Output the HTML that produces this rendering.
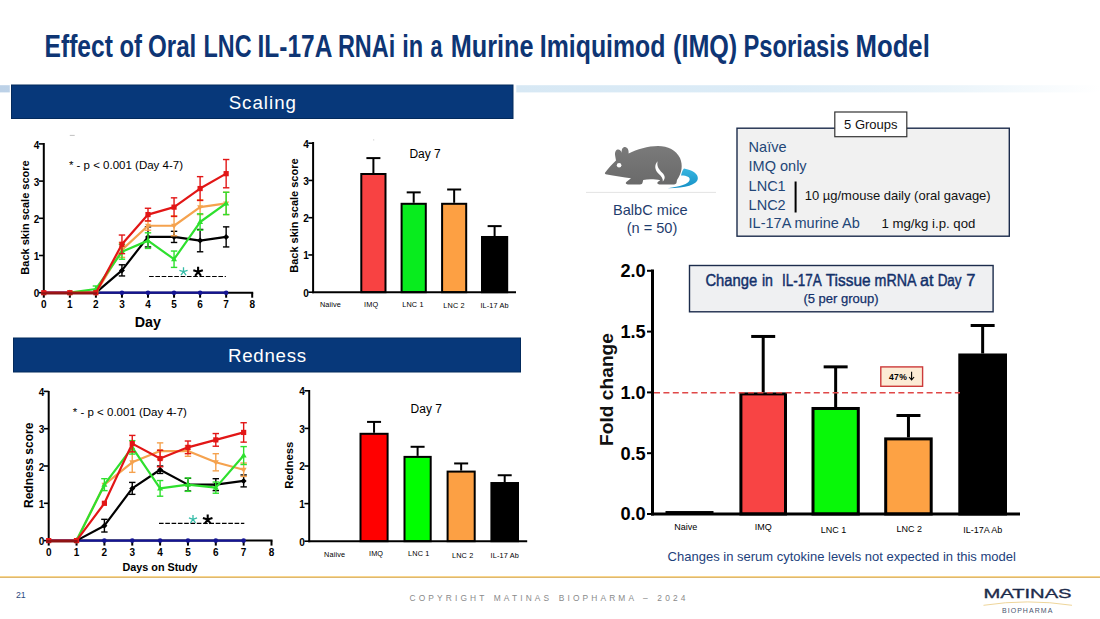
<!DOCTYPE html>
<html><head><meta charset="utf-8"><title>Effect of Oral LNC IL-17A RNAi</title>
<style>
html,body{margin:0;padding:0;background:#fff;}
body{width:1100px;height:619px;overflow:hidden;font-family:"Liberation Sans", sans-serif;}
svg{display:block;font-family:"Liberation Sans", sans-serif;}
</style></head>
<body>
<svg width="1100" height="619" viewBox="0 0 1100 619">
<rect width="1100" height="619" fill="#fff"/>
<defs><linearGradient id="hl" x1="0" x2="1" y1="0" y2="0"><stop offset="0" stop-color="#bcd1e7"/><stop offset="0.47" stop-color="#d7e8f4"/><stop offset="0.7" stop-color="#dcecf7"/><stop offset="0.86" stop-color="#eaf4fa"/><stop offset="1" stop-color="#ffffff"/></linearGradient></defs>
<rect x="0.00" y="85.20" width="1100.00" height="7.20" fill="url(#hl)" stroke="none" stroke-width="0" />
<text x="44.55" y="56.7" font-size="30.5" font-weight="bold" fill="#0e3574" textLength="68.33" lengthAdjust="spacingAndGlyphs">Effect</text>
<text x="119.46" y="56.7" font-size="30.5" font-weight="bold" fill="#0e3574" textLength="22.49" lengthAdjust="spacingAndGlyphs">of</text>
<text x="148.01" y="56.7" font-size="30.5" font-weight="bold" fill="#0e3574" textLength="48.32" lengthAdjust="spacingAndGlyphs">Oral</text>
<text x="203.53" y="56.7" font-size="30.5" font-weight="bold" fill="#0e3574" textLength="48.01" lengthAdjust="spacingAndGlyphs">LNC</text>
<text x="257.56" y="56.7" font-size="30.5" font-weight="bold" fill="#0e3574" textLength="74.80" lengthAdjust="spacingAndGlyphs">IL-17A</text>
<text x="337.92" y="56.7" font-size="30.5" font-weight="bold" fill="#0e3574" textLength="57.33" lengthAdjust="spacingAndGlyphs">RNAi</text>
<text x="402.14" y="56.7" font-size="30.5" font-weight="bold" fill="#0e3574" textLength="20.93" lengthAdjust="spacingAndGlyphs">in</text>
<text x="430.57" y="56.7" font-size="30.5" font-weight="bold" fill="#0e3574" textLength="11.90" lengthAdjust="spacingAndGlyphs">a</text>
<text x="450.80" y="56.7" font-size="30.5" font-weight="bold" fill="#0e3574" textLength="82.79" lengthAdjust="spacingAndGlyphs">Murine</text>
<text x="539.83" y="56.7" font-size="30.5" font-weight="bold" fill="#0e3574" textLength="125.63" lengthAdjust="spacingAndGlyphs">Imiquimod</text>
<text x="673.06" y="56.7" font-size="30.5" font-weight="bold" fill="#0e3574" textLength="64.19" lengthAdjust="spacingAndGlyphs">(IMQ)</text>
<text x="743.50" y="56.7" font-size="30.5" font-weight="bold" fill="#0e3574" textLength="105.66" lengthAdjust="spacingAndGlyphs">Psoriasis</text>
<text x="855.47" y="56.7" font-size="30.5" font-weight="bold" fill="#0e3574" textLength="74.35" lengthAdjust="spacingAndGlyphs">Model</text>
<rect x="9.80" y="84.00" width="506.50" height="35.00" fill="#ffffff" stroke="none" stroke-width="0" />
<rect x="11.50" y="85.00" width="501.50" height="33.50" fill="#07387a" stroke="#032a5c" stroke-width="1" />
<text x="262.80" y="108.90" font-size="18.7" fill="#fff" font-weight="normal" text-anchor="middle" letter-spacing="1.0">Scaling</text>
<rect x="13.50" y="338.00" width="507.00" height="34.00" fill="#07387a" stroke="#032a5c" stroke-width="1" />
<text x="267.40" y="361.80" font-size="18.7" fill="#fff" font-weight="normal" text-anchor="middle" letter-spacing="0.75">Redness</text>
<line x1="43.80" y1="143.00" x2="43.80" y2="293.70" stroke="#000" stroke-width="2" />
<line x1="39.00" y1="292.70" x2="43.80" y2="292.70" stroke="#000" stroke-width="1.6" />
<text x="39.40" y="297.30" font-size="10" fill="#000" font-weight="bold" text-anchor="end" >0</text>
<line x1="39.00" y1="255.50" x2="43.80" y2="255.50" stroke="#000" stroke-width="1.6" />
<text x="39.40" y="260.10" font-size="10" fill="#000" font-weight="bold" text-anchor="end" >1</text>
<line x1="39.00" y1="218.30" x2="43.80" y2="218.30" stroke="#000" stroke-width="1.6" />
<text x="39.40" y="222.90" font-size="10" fill="#000" font-weight="bold" text-anchor="end" >2</text>
<line x1="39.00" y1="181.10" x2="43.80" y2="181.10" stroke="#000" stroke-width="1.6" />
<text x="39.40" y="185.70" font-size="10" fill="#000" font-weight="bold" text-anchor="end" >3</text>
<line x1="39.00" y1="143.90" x2="43.80" y2="143.90" stroke="#000" stroke-width="1.6" />
<text x="39.40" y="148.50" font-size="10" fill="#000" font-weight="bold" text-anchor="end" >4</text>
<line x1="42.80" y1="292.70" x2="253.20" y2="292.70" stroke="#000" stroke-width="2" />
<line x1="43.80" y1="292.70" x2="43.80" y2="297.70" stroke="#000" stroke-width="2" />
<text x="43.80" y="308.30" font-size="10" fill="#000" font-weight="bold" text-anchor="middle" >0</text>
<line x1="69.85" y1="292.70" x2="69.85" y2="297.70" stroke="#000" stroke-width="2" />
<text x="69.85" y="308.30" font-size="10" fill="#000" font-weight="bold" text-anchor="middle" >1</text>
<line x1="95.90" y1="292.70" x2="95.90" y2="297.70" stroke="#000" stroke-width="2" />
<text x="95.90" y="308.30" font-size="10" fill="#000" font-weight="bold" text-anchor="middle" >2</text>
<line x1="121.95" y1="292.70" x2="121.95" y2="297.70" stroke="#000" stroke-width="2" />
<text x="121.95" y="308.30" font-size="10" fill="#000" font-weight="bold" text-anchor="middle" >3</text>
<line x1="148.00" y1="292.70" x2="148.00" y2="297.70" stroke="#000" stroke-width="2" />
<text x="148.00" y="308.30" font-size="10" fill="#000" font-weight="bold" text-anchor="middle" >4</text>
<line x1="174.05" y1="292.70" x2="174.05" y2="297.70" stroke="#000" stroke-width="2" />
<text x="174.05" y="308.30" font-size="10" fill="#000" font-weight="bold" text-anchor="middle" >5</text>
<line x1="200.10" y1="292.70" x2="200.10" y2="297.70" stroke="#000" stroke-width="2" />
<text x="200.10" y="308.30" font-size="10" fill="#000" font-weight="bold" text-anchor="middle" >6</text>
<line x1="226.15" y1="292.70" x2="226.15" y2="297.70" stroke="#000" stroke-width="2" />
<text x="226.15" y="308.30" font-size="10" fill="#000" font-weight="bold" text-anchor="middle" >7</text>
<line x1="252.20" y1="292.70" x2="252.20" y2="297.70" stroke="#000" stroke-width="2" />
<text x="252.20" y="308.30" font-size="10" fill="#000" font-weight="bold" text-anchor="middle" >8</text>
<text transform="translate(29.00,217.50) rotate(-90)" font-size="11.0" font-weight="bold" text-anchor="middle" fill="#000">Back skin scale score</text>
<text x="147.90" y="326.60" font-size="14.3" fill="#000" font-weight="bold" text-anchor="middle" >Day</text>
<text x="68.90" y="168.50" font-size="11.5" fill="#000" font-weight="normal" text-anchor="start" >* - p &lt; 0.001 (Day 4-7)</text>
<polyline points="43.80,292.70 69.85,292.70 95.90,292.70 121.95,292.70 148.00,292.70 174.05,292.70 200.10,292.70 226.15,292.70" fill="none" stroke="#141494" stroke-width="2.2" stroke-linejoin="round"/>
<circle cx="43.80" cy="292.70" r="2.3" fill="#141494"/>
<circle cx="69.85" cy="292.70" r="2.3" fill="#141494"/>
<circle cx="95.90" cy="292.70" r="2.3" fill="#141494"/>
<circle cx="121.95" cy="292.70" r="2.3" fill="#141494"/>
<circle cx="148.00" cy="292.70" r="2.3" fill="#141494"/>
<circle cx="174.05" cy="292.70" r="2.3" fill="#141494"/>
<circle cx="200.10" cy="292.70" r="2.3" fill="#141494"/>
<circle cx="226.15" cy="292.70" r="2.3" fill="#141494"/>
<line x1="121.95" y1="264.80" x2="121.95" y2="275.96" stroke="#000" stroke-width="1.4" />
<line x1="118.75" y1="264.80" x2="125.15" y2="264.80" stroke="#000" stroke-width="1.4" />
<line x1="118.75" y1="275.96" x2="125.15" y2="275.96" stroke="#000" stroke-width="1.4" />
<line x1="148.00" y1="226.86" x2="148.00" y2="246.94" stroke="#000" stroke-width="1.4" />
<line x1="144.80" y1="226.86" x2="151.20" y2="226.86" stroke="#000" stroke-width="1.4" />
<line x1="144.80" y1="246.94" x2="151.20" y2="246.94" stroke="#000" stroke-width="1.4" />
<line x1="174.05" y1="231.32" x2="174.05" y2="242.48" stroke="#000" stroke-width="1.4" />
<line x1="170.85" y1="231.32" x2="177.25" y2="231.32" stroke="#000" stroke-width="1.4" />
<line x1="170.85" y1="242.48" x2="177.25" y2="242.48" stroke="#000" stroke-width="1.4" />
<line x1="200.10" y1="229.46" x2="200.10" y2="251.78" stroke="#000" stroke-width="1.4" />
<line x1="196.90" y1="229.46" x2="203.30" y2="229.46" stroke="#000" stroke-width="1.4" />
<line x1="196.90" y1="251.78" x2="203.30" y2="251.78" stroke="#000" stroke-width="1.4" />
<line x1="226.15" y1="226.86" x2="226.15" y2="246.94" stroke="#000" stroke-width="1.4" />
<line x1="222.95" y1="226.86" x2="229.35" y2="226.86" stroke="#000" stroke-width="1.4" />
<line x1="222.95" y1="246.94" x2="229.35" y2="246.94" stroke="#000" stroke-width="1.4" />
<polyline points="95.90,292.70 121.95,270.38 148.00,236.90 174.05,236.90 200.10,240.62 226.15,236.90" fill="none" stroke="#000" stroke-width="2.2" stroke-linejoin="round"/>
<path d="M95.90,289.70 L98.90,292.70 L95.90,295.70 L92.90,292.70Z" fill="#000"/>
<path d="M121.95,267.38 L124.95,270.38 L121.95,273.38 L118.95,270.38Z" fill="#000"/>
<path d="M148.00,233.90 L151.00,236.90 L148.00,239.90 L145.00,236.90Z" fill="#000"/>
<path d="M174.05,233.90 L177.05,236.90 L174.05,239.90 L171.05,236.90Z" fill="#000"/>
<path d="M200.10,237.62 L203.10,240.62 L200.10,243.62 L197.10,240.62Z" fill="#000"/>
<path d="M226.15,233.90 L229.15,236.90 L226.15,239.90 L223.15,236.90Z" fill="#000"/>
<line x1="121.95" y1="242.48" x2="121.95" y2="257.36" stroke="#f5a24e" stroke-width="1.4" />
<line x1="118.75" y1="242.48" x2="125.15" y2="242.48" stroke="#f5a24e" stroke-width="1.4" />
<line x1="118.75" y1="257.36" x2="125.15" y2="257.36" stroke="#f5a24e" stroke-width="1.4" />
<line x1="148.00" y1="221.28" x2="148.00" y2="230.20" stroke="#f5a24e" stroke-width="1.4" />
<line x1="144.80" y1="221.28" x2="151.20" y2="221.28" stroke="#f5a24e" stroke-width="1.4" />
<line x1="144.80" y1="230.20" x2="151.20" y2="230.20" stroke="#f5a24e" stroke-width="1.4" />
<line x1="174.05" y1="215.70" x2="174.05" y2="235.78" stroke="#f5a24e" stroke-width="1.4" />
<line x1="170.85" y1="215.70" x2="177.25" y2="215.70" stroke="#f5a24e" stroke-width="1.4" />
<line x1="170.85" y1="235.78" x2="177.25" y2="235.78" stroke="#f5a24e" stroke-width="1.4" />
<line x1="200.10" y1="199.70" x2="200.10" y2="214.58" stroke="#f5a24e" stroke-width="1.4" />
<line x1="196.90" y1="199.70" x2="203.30" y2="199.70" stroke="#f5a24e" stroke-width="1.4" />
<line x1="196.90" y1="214.58" x2="203.30" y2="214.58" stroke="#f5a24e" stroke-width="1.4" />
<line x1="226.15" y1="192.26" x2="226.15" y2="214.58" stroke="#f5a24e" stroke-width="1.4" />
<line x1="222.95" y1="192.26" x2="229.35" y2="192.26" stroke="#f5a24e" stroke-width="1.4" />
<line x1="222.95" y1="214.58" x2="229.35" y2="214.58" stroke="#f5a24e" stroke-width="1.4" />
<polyline points="69.85,292.70 95.90,292.70 121.95,249.92 148.00,225.74 174.05,225.74 200.10,207.14 226.15,203.42" fill="none" stroke="#f5a24e" stroke-width="2.2" stroke-linejoin="round"/>
<path d="M69.85,295.90 L72.85,290.70 L66.85,290.70Z" fill="#f5a24e"/>
<path d="M95.90,295.90 L98.90,290.70 L92.90,290.70Z" fill="#f5a24e"/>
<path d="M121.95,253.12 L124.95,247.92 L118.95,247.92Z" fill="#f5a24e"/>
<path d="M148.00,228.94 L151.00,223.74 L145.00,223.74Z" fill="#f5a24e"/>
<path d="M174.05,228.94 L177.05,223.74 L171.05,223.74Z" fill="#f5a24e"/>
<path d="M200.10,210.34 L203.10,205.14 L197.10,205.14Z" fill="#f5a24e"/>
<path d="M226.15,206.62 L229.15,201.42 L223.15,201.42Z" fill="#f5a24e"/>
<line x1="95.90" y1="286.00" x2="95.90" y2="291.96" stroke="#2ee02e" stroke-width="1.4" />
<line x1="92.70" y1="286.00" x2="99.10" y2="286.00" stroke="#2ee02e" stroke-width="1.4" />
<line x1="92.70" y1="291.96" x2="99.10" y2="291.96" stroke="#2ee02e" stroke-width="1.4" />
<line x1="121.95" y1="244.34" x2="121.95" y2="259.22" stroke="#2ee02e" stroke-width="1.4" />
<line x1="118.75" y1="244.34" x2="125.15" y2="244.34" stroke="#2ee02e" stroke-width="1.4" />
<line x1="118.75" y1="259.22" x2="125.15" y2="259.22" stroke="#2ee02e" stroke-width="1.4" />
<line x1="148.00" y1="232.81" x2="148.00" y2="248.43" stroke="#2ee02e" stroke-width="1.4" />
<line x1="144.80" y1="232.81" x2="151.20" y2="232.81" stroke="#2ee02e" stroke-width="1.4" />
<line x1="144.80" y1="248.43" x2="151.20" y2="248.43" stroke="#2ee02e" stroke-width="1.4" />
<line x1="174.05" y1="251.04" x2="174.05" y2="267.40" stroke="#2ee02e" stroke-width="1.4" />
<line x1="170.85" y1="251.04" x2="177.25" y2="251.04" stroke="#2ee02e" stroke-width="1.4" />
<line x1="170.85" y1="267.40" x2="177.25" y2="267.40" stroke="#2ee02e" stroke-width="1.4" />
<line x1="200.10" y1="213.84" x2="200.10" y2="230.20" stroke="#2ee02e" stroke-width="1.4" />
<line x1="196.90" y1="213.84" x2="203.30" y2="213.84" stroke="#2ee02e" stroke-width="1.4" />
<line x1="196.90" y1="230.20" x2="203.30" y2="230.20" stroke="#2ee02e" stroke-width="1.4" />
<line x1="226.15" y1="192.26" x2="226.15" y2="214.58" stroke="#2ee02e" stroke-width="1.4" />
<line x1="222.95" y1="192.26" x2="229.35" y2="192.26" stroke="#2ee02e" stroke-width="1.4" />
<line x1="222.95" y1="214.58" x2="229.35" y2="214.58" stroke="#2ee02e" stroke-width="1.4" />
<polyline points="69.85,292.70 95.90,288.98 121.95,251.78 148.00,240.62 174.05,259.22 200.10,222.02 226.15,203.42" fill="none" stroke="#2ee02e" stroke-width="2.2" stroke-linejoin="round"/>
<path d="M69.85,289.50 L72.85,294.70 L66.85,294.70Z" fill="#2ee02e"/>
<path d="M95.90,285.78 L98.90,290.98 L92.90,290.98Z" fill="#2ee02e"/>
<path d="M121.95,248.58 L124.95,253.78 L118.95,253.78Z" fill="#2ee02e"/>
<path d="M148.00,237.42 L151.00,242.62 L145.00,242.62Z" fill="#2ee02e"/>
<path d="M174.05,256.02 L177.05,261.22 L171.05,261.22Z" fill="#2ee02e"/>
<path d="M200.10,218.82 L203.10,224.02 L197.10,224.02Z" fill="#2ee02e"/>
<path d="M226.15,200.22 L229.15,205.42 L223.15,205.42Z" fill="#2ee02e"/>
<line x1="121.95" y1="235.04" x2="121.95" y2="253.64" stroke="#e21616" stroke-width="1.4" />
<line x1="118.75" y1="235.04" x2="125.15" y2="235.04" stroke="#e21616" stroke-width="1.4" />
<line x1="118.75" y1="253.64" x2="125.15" y2="253.64" stroke="#e21616" stroke-width="1.4" />
<line x1="148.00" y1="208.26" x2="148.00" y2="220.90" stroke="#e21616" stroke-width="1.4" />
<line x1="144.80" y1="208.26" x2="151.20" y2="208.26" stroke="#e21616" stroke-width="1.4" />
<line x1="144.80" y1="220.90" x2="151.20" y2="220.90" stroke="#e21616" stroke-width="1.4" />
<line x1="174.05" y1="197.84" x2="174.05" y2="216.44" stroke="#e21616" stroke-width="1.4" />
<line x1="170.85" y1="197.84" x2="177.25" y2="197.84" stroke="#e21616" stroke-width="1.4" />
<line x1="170.85" y1="216.44" x2="177.25" y2="216.44" stroke="#e21616" stroke-width="1.4" />
<line x1="200.10" y1="176.64" x2="200.10" y2="200.44" stroke="#e21616" stroke-width="1.4" />
<line x1="196.90" y1="176.64" x2="203.30" y2="176.64" stroke="#e21616" stroke-width="1.4" />
<line x1="196.90" y1="200.44" x2="203.30" y2="200.44" stroke="#e21616" stroke-width="1.4" />
<line x1="226.15" y1="159.52" x2="226.15" y2="187.80" stroke="#e21616" stroke-width="1.4" />
<line x1="222.95" y1="159.52" x2="229.35" y2="159.52" stroke="#e21616" stroke-width="1.4" />
<line x1="222.95" y1="187.80" x2="229.35" y2="187.80" stroke="#e21616" stroke-width="1.4" />
<polyline points="43.80,292.70 69.85,292.70 95.90,292.70 121.95,244.34 148.00,214.58 174.05,207.14 200.10,188.54 226.15,173.66" fill="none" stroke="#e21616" stroke-width="2.2" stroke-linejoin="round"/>
<rect x="41.20" y="290.10" width="5.20" height="5.20" fill="#e21616" stroke="none" stroke-width="0" />
<rect x="67.25" y="290.10" width="5.20" height="5.20" fill="#e21616" stroke="none" stroke-width="0" />
<rect x="93.30" y="290.10" width="5.20" height="5.20" fill="#e21616" stroke="none" stroke-width="0" />
<rect x="119.35" y="241.74" width="5.20" height="5.20" fill="#e21616" stroke="none" stroke-width="0" />
<rect x="145.40" y="211.98" width="5.20" height="5.20" fill="#e21616" stroke="none" stroke-width="0" />
<rect x="171.45" y="204.54" width="5.20" height="5.20" fill="#e21616" stroke="none" stroke-width="0" />
<rect x="197.50" y="185.94" width="5.20" height="5.20" fill="#e21616" stroke="none" stroke-width="0" />
<rect x="223.55" y="171.06" width="5.20" height="5.20" fill="#e21616" stroke="none" stroke-width="0" />
<line x1="41.20" y1="293.40" x2="96.90" y2="293.40" stroke="#8c1414" stroke-width="2.4" />
<line x1="149.10" y1="276.50" x2="225.90" y2="276.50" stroke="#000" stroke-width="1.15" stroke-dasharray="4.6 1.7"/>
<path d="M183.50,271.60 L183.50,267.30 M183.50,271.60 L187.59,270.27 M183.50,271.60 L186.03,275.08 M183.50,271.60 L180.97,275.08 M183.50,271.60 L179.41,270.27 " stroke="#36bca8" stroke-width="1.3" stroke-linecap="butt" fill="none"/>
<path d="M198.10,271.80 L198.10,266.80 M198.10,271.80 L202.86,270.25 M198.10,271.80 L201.04,275.85 M198.10,271.80 L195.16,275.85 M198.10,271.80 L193.34,270.25 " stroke="#000" stroke-width="2.1" stroke-linecap="butt" fill="none"/>
<line x1="69.80" y1="135.40" x2="74.70" y2="135.40" stroke="#b0b0b0" stroke-width="0.8" />
<line x1="48.70" y1="391.00" x2="48.70" y2="541.60" stroke="#000" stroke-width="2" />
<line x1="43.90" y1="540.60" x2="48.70" y2="540.60" stroke="#000" stroke-width="1.6" />
<text x="44.30" y="545.20" font-size="10" fill="#000" font-weight="bold" text-anchor="end" >0</text>
<line x1="43.90" y1="503.30" x2="48.70" y2="503.30" stroke="#000" stroke-width="1.6" />
<text x="44.30" y="507.90" font-size="10" fill="#000" font-weight="bold" text-anchor="end" >1</text>
<line x1="43.90" y1="466.00" x2="48.70" y2="466.00" stroke="#000" stroke-width="1.6" />
<text x="44.30" y="470.60" font-size="10" fill="#000" font-weight="bold" text-anchor="end" >2</text>
<line x1="43.90" y1="428.70" x2="48.70" y2="428.70" stroke="#000" stroke-width="1.6" />
<text x="44.30" y="433.30" font-size="10" fill="#000" font-weight="bold" text-anchor="end" >3</text>
<line x1="43.90" y1="391.40" x2="48.70" y2="391.40" stroke="#000" stroke-width="1.6" />
<text x="44.30" y="396.00" font-size="10" fill="#000" font-weight="bold" text-anchor="end" >4</text>
<line x1="47.70" y1="540.60" x2="272.50" y2="540.60" stroke="#000" stroke-width="2" />
<line x1="48.70" y1="540.60" x2="48.70" y2="545.60" stroke="#000" stroke-width="2" />
<text x="48.70" y="556.20" font-size="10" fill="#000" font-weight="bold" text-anchor="middle" >0</text>
<line x1="76.55" y1="540.60" x2="76.55" y2="545.60" stroke="#000" stroke-width="2" />
<text x="76.55" y="556.20" font-size="10" fill="#000" font-weight="bold" text-anchor="middle" >1</text>
<line x1="104.40" y1="540.60" x2="104.40" y2="545.60" stroke="#000" stroke-width="2" />
<text x="104.40" y="556.20" font-size="10" fill="#000" font-weight="bold" text-anchor="middle" >2</text>
<line x1="132.25" y1="540.60" x2="132.25" y2="545.60" stroke="#000" stroke-width="2" />
<text x="132.25" y="556.20" font-size="10" fill="#000" font-weight="bold" text-anchor="middle" >3</text>
<line x1="160.10" y1="540.60" x2="160.10" y2="545.60" stroke="#000" stroke-width="2" />
<text x="160.10" y="556.20" font-size="10" fill="#000" font-weight="bold" text-anchor="middle" >4</text>
<line x1="187.95" y1="540.60" x2="187.95" y2="545.60" stroke="#000" stroke-width="2" />
<text x="187.95" y="556.20" font-size="10" fill="#000" font-weight="bold" text-anchor="middle" >5</text>
<line x1="215.80" y1="540.60" x2="215.80" y2="545.60" stroke="#000" stroke-width="2" />
<text x="215.80" y="556.20" font-size="10" fill="#000" font-weight="bold" text-anchor="middle" >6</text>
<line x1="243.65" y1="540.60" x2="243.65" y2="545.60" stroke="#000" stroke-width="2" />
<text x="243.65" y="556.20" font-size="10" fill="#000" font-weight="bold" text-anchor="middle" >7</text>
<line x1="271.50" y1="540.60" x2="271.50" y2="545.60" stroke="#000" stroke-width="2" />
<text x="271.50" y="556.20" font-size="10" fill="#000" font-weight="bold" text-anchor="middle" >8</text>
<text transform="translate(33.30,465.30) rotate(-90)" font-size="12.0" font-weight="bold" text-anchor="middle" fill="#000">Redness score</text>
<text x="160.00" y="571.20" font-size="10.8" fill="#000" font-weight="bold" text-anchor="middle" >Days on Study</text>
<text x="72.80" y="415.50" font-size="11.5" fill="#000" font-weight="normal" text-anchor="start" >* - p &lt; 0.001 (Day 4-7)</text>
<polyline points="48.70,540.60 76.55,540.60 104.40,540.60 132.25,540.60 160.10,540.60 187.95,540.60 215.80,540.60 243.65,540.60" fill="none" stroke="#141494" stroke-width="2.2" stroke-linejoin="round"/>
<circle cx="48.70" cy="540.60" r="2.3" fill="#141494"/>
<circle cx="76.55" cy="540.60" r="2.3" fill="#141494"/>
<circle cx="104.40" cy="540.60" r="2.3" fill="#141494"/>
<circle cx="132.25" cy="540.60" r="2.3" fill="#141494"/>
<circle cx="160.10" cy="540.60" r="2.3" fill="#141494"/>
<circle cx="187.95" cy="540.60" r="2.3" fill="#141494"/>
<circle cx="215.80" cy="540.60" r="2.3" fill="#141494"/>
<circle cx="243.65" cy="540.60" r="2.3" fill="#141494"/>
<line x1="104.40" y1="519.34" x2="104.40" y2="532.02" stroke="#000" stroke-width="1.4" />
<line x1="101.20" y1="519.34" x2="107.60" y2="519.34" stroke="#000" stroke-width="1.4" />
<line x1="101.20" y1="532.02" x2="107.60" y2="532.02" stroke="#000" stroke-width="1.4" />
<line x1="132.25" y1="482.41" x2="132.25" y2="494.35" stroke="#000" stroke-width="1.4" />
<line x1="129.05" y1="482.41" x2="135.45" y2="482.41" stroke="#000" stroke-width="1.4" />
<line x1="129.05" y1="494.35" x2="135.45" y2="494.35" stroke="#000" stroke-width="1.4" />
<line x1="160.10" y1="466.00" x2="160.10" y2="473.46" stroke="#000" stroke-width="1.4" />
<line x1="156.90" y1="466.00" x2="163.30" y2="466.00" stroke="#000" stroke-width="1.4" />
<line x1="156.90" y1="473.46" x2="163.30" y2="473.46" stroke="#000" stroke-width="1.4" />
<line x1="187.95" y1="478.31" x2="187.95" y2="490.99" stroke="#000" stroke-width="1.4" />
<line x1="184.75" y1="478.31" x2="191.15" y2="478.31" stroke="#000" stroke-width="1.4" />
<line x1="184.75" y1="490.99" x2="191.15" y2="490.99" stroke="#000" stroke-width="1.4" />
<line x1="215.80" y1="478.68" x2="215.80" y2="490.62" stroke="#000" stroke-width="1.4" />
<line x1="212.60" y1="478.68" x2="219.00" y2="478.68" stroke="#000" stroke-width="1.4" />
<line x1="212.60" y1="490.62" x2="219.00" y2="490.62" stroke="#000" stroke-width="1.4" />
<line x1="243.65" y1="474.95" x2="243.65" y2="486.89" stroke="#000" stroke-width="1.4" />
<line x1="240.45" y1="474.95" x2="246.85" y2="474.95" stroke="#000" stroke-width="1.4" />
<line x1="240.45" y1="486.89" x2="246.85" y2="486.89" stroke="#000" stroke-width="1.4" />
<polyline points="76.55,540.60 104.40,525.68 132.25,488.38 160.10,469.73 187.95,484.65 215.80,484.65 243.65,480.92" fill="none" stroke="#000" stroke-width="2.2" stroke-linejoin="round"/>
<path d="M76.55,537.60 L79.55,540.60 L76.55,543.60 L73.55,540.60Z" fill="#000"/>
<path d="M104.40,522.68 L107.40,525.68 L104.40,528.68 L101.40,525.68Z" fill="#000"/>
<path d="M132.25,485.38 L135.25,488.38 L132.25,491.38 L129.25,488.38Z" fill="#000"/>
<path d="M160.10,466.73 L163.10,469.73 L160.10,472.73 L157.10,469.73Z" fill="#000"/>
<path d="M187.95,481.65 L190.95,484.65 L187.95,487.65 L184.95,484.65Z" fill="#000"/>
<path d="M215.80,481.65 L218.80,484.65 L215.80,487.65 L212.80,484.65Z" fill="#000"/>
<path d="M243.65,477.92 L246.65,480.92 L243.65,483.92 L240.65,480.92Z" fill="#000"/>
<line x1="132.25" y1="452.20" x2="132.25" y2="472.34" stroke="#f5a24e" stroke-width="1.4" />
<line x1="129.05" y1="452.20" x2="135.45" y2="452.20" stroke="#f5a24e" stroke-width="1.4" />
<line x1="129.05" y1="472.34" x2="135.45" y2="472.34" stroke="#f5a24e" stroke-width="1.4" />
<line x1="160.10" y1="442.87" x2="160.10" y2="459.29" stroke="#f5a24e" stroke-width="1.4" />
<line x1="156.90" y1="442.87" x2="163.30" y2="442.87" stroke="#f5a24e" stroke-width="1.4" />
<line x1="156.90" y1="459.29" x2="163.30" y2="459.29" stroke="#f5a24e" stroke-width="1.4" />
<line x1="187.95" y1="445.86" x2="187.95" y2="456.30" stroke="#f5a24e" stroke-width="1.4" />
<line x1="184.75" y1="445.86" x2="191.15" y2="445.86" stroke="#f5a24e" stroke-width="1.4" />
<line x1="184.75" y1="456.30" x2="191.15" y2="456.30" stroke="#f5a24e" stroke-width="1.4" />
<line x1="215.80" y1="453.69" x2="215.80" y2="470.85" stroke="#f5a24e" stroke-width="1.4" />
<line x1="212.60" y1="453.69" x2="219.00" y2="453.69" stroke="#f5a24e" stroke-width="1.4" />
<line x1="212.60" y1="470.85" x2="219.00" y2="470.85" stroke="#f5a24e" stroke-width="1.4" />
<line x1="243.65" y1="463.02" x2="243.65" y2="476.44" stroke="#f5a24e" stroke-width="1.4" />
<line x1="240.45" y1="463.02" x2="246.85" y2="463.02" stroke="#f5a24e" stroke-width="1.4" />
<line x1="240.45" y1="476.44" x2="246.85" y2="476.44" stroke="#f5a24e" stroke-width="1.4" />
<polyline points="76.55,540.60 104.40,484.65 132.25,462.27 160.10,451.08 187.95,451.08 215.80,462.27 243.65,469.73" fill="none" stroke="#f5a24e" stroke-width="2.2" stroke-linejoin="round"/>
<path d="M76.55,543.80 L79.55,538.60 L73.55,538.60Z" fill="#f5a24e"/>
<path d="M104.40,487.85 L107.40,482.65 L101.40,482.65Z" fill="#f5a24e"/>
<path d="M132.25,465.47 L135.25,460.27 L129.25,460.27Z" fill="#f5a24e"/>
<path d="M160.10,454.28 L163.10,449.08 L157.10,449.08Z" fill="#f5a24e"/>
<path d="M187.95,454.28 L190.95,449.08 L184.95,449.08Z" fill="#f5a24e"/>
<path d="M215.80,465.47 L218.80,460.27 L212.80,460.27Z" fill="#f5a24e"/>
<path d="M243.65,472.93 L246.65,467.73 L240.65,467.73Z" fill="#f5a24e"/>
<line x1="104.40" y1="478.68" x2="104.40" y2="490.62" stroke="#2ee02e" stroke-width="1.4" />
<line x1="101.20" y1="478.68" x2="107.60" y2="478.68" stroke="#2ee02e" stroke-width="1.4" />
<line x1="101.20" y1="490.62" x2="107.60" y2="490.62" stroke="#2ee02e" stroke-width="1.4" />
<line x1="132.25" y1="440.64" x2="132.25" y2="454.06" stroke="#2ee02e" stroke-width="1.4" />
<line x1="129.05" y1="440.64" x2="135.45" y2="440.64" stroke="#2ee02e" stroke-width="1.4" />
<line x1="129.05" y1="454.06" x2="135.45" y2="454.06" stroke="#2ee02e" stroke-width="1.4" />
<line x1="160.10" y1="480.55" x2="160.10" y2="496.21" stroke="#2ee02e" stroke-width="1.4" />
<line x1="156.90" y1="480.55" x2="163.30" y2="480.55" stroke="#2ee02e" stroke-width="1.4" />
<line x1="156.90" y1="496.21" x2="163.30" y2="496.21" stroke="#2ee02e" stroke-width="1.4" />
<line x1="187.95" y1="477.94" x2="187.95" y2="491.36" stroke="#2ee02e" stroke-width="1.4" />
<line x1="184.75" y1="477.94" x2="191.15" y2="477.94" stroke="#2ee02e" stroke-width="1.4" />
<line x1="184.75" y1="491.36" x2="191.15" y2="491.36" stroke="#2ee02e" stroke-width="1.4" />
<line x1="215.80" y1="482.04" x2="215.80" y2="493.23" stroke="#2ee02e" stroke-width="1.4" />
<line x1="212.60" y1="482.04" x2="219.00" y2="482.04" stroke="#2ee02e" stroke-width="1.4" />
<line x1="212.60" y1="493.23" x2="219.00" y2="493.23" stroke="#2ee02e" stroke-width="1.4" />
<line x1="243.65" y1="446.60" x2="243.65" y2="464.51" stroke="#2ee02e" stroke-width="1.4" />
<line x1="240.45" y1="446.60" x2="246.85" y2="446.60" stroke="#2ee02e" stroke-width="1.4" />
<line x1="240.45" y1="464.51" x2="246.85" y2="464.51" stroke="#2ee02e" stroke-width="1.4" />
<polyline points="76.55,540.60 104.40,484.65 132.25,447.35 160.10,488.38 187.95,484.65 215.80,487.63 243.65,455.56" fill="none" stroke="#2ee02e" stroke-width="2.2" stroke-linejoin="round"/>
<path d="M76.55,537.40 L79.55,542.60 L73.55,542.60Z" fill="#2ee02e"/>
<path d="M104.40,481.45 L107.40,486.65 L101.40,486.65Z" fill="#2ee02e"/>
<path d="M132.25,444.15 L135.25,449.35 L129.25,449.35Z" fill="#2ee02e"/>
<path d="M160.10,485.18 L163.10,490.38 L157.10,490.38Z" fill="#2ee02e"/>
<path d="M187.95,481.45 L190.95,486.65 L184.95,486.65Z" fill="#2ee02e"/>
<path d="M215.80,484.43 L218.80,489.63 L212.80,489.63Z" fill="#2ee02e"/>
<path d="M243.65,452.36 L246.65,457.56 L240.65,457.56Z" fill="#2ee02e"/>
<line x1="132.25" y1="435.41" x2="132.25" y2="451.83" stroke="#e21616" stroke-width="1.4" />
<line x1="129.05" y1="435.41" x2="135.45" y2="435.41" stroke="#e21616" stroke-width="1.4" />
<line x1="129.05" y1="451.83" x2="135.45" y2="451.83" stroke="#e21616" stroke-width="1.4" />
<line x1="160.10" y1="450.33" x2="160.10" y2="466.75" stroke="#e21616" stroke-width="1.4" />
<line x1="156.90" y1="450.33" x2="163.30" y2="450.33" stroke="#e21616" stroke-width="1.4" />
<line x1="156.90" y1="466.75" x2="163.30" y2="466.75" stroke="#e21616" stroke-width="1.4" />
<line x1="187.95" y1="441.01" x2="187.95" y2="453.69" stroke="#e21616" stroke-width="1.4" />
<line x1="184.75" y1="441.01" x2="191.15" y2="441.01" stroke="#e21616" stroke-width="1.4" />
<line x1="184.75" y1="453.69" x2="191.15" y2="453.69" stroke="#e21616" stroke-width="1.4" />
<line x1="215.80" y1="433.55" x2="215.80" y2="446.23" stroke="#e21616" stroke-width="1.4" />
<line x1="212.60" y1="433.55" x2="219.00" y2="433.55" stroke="#e21616" stroke-width="1.4" />
<line x1="212.60" y1="446.23" x2="219.00" y2="446.23" stroke="#e21616" stroke-width="1.4" />
<line x1="243.65" y1="422.73" x2="243.65" y2="442.13" stroke="#e21616" stroke-width="1.4" />
<line x1="240.45" y1="422.73" x2="246.85" y2="422.73" stroke="#e21616" stroke-width="1.4" />
<line x1="240.45" y1="442.13" x2="246.85" y2="442.13" stroke="#e21616" stroke-width="1.4" />
<polyline points="48.70,540.60 76.55,540.60 104.40,503.30 132.25,443.62 160.10,458.54 187.95,447.35 215.80,439.89 243.65,432.43" fill="none" stroke="#e21616" stroke-width="2.2" stroke-linejoin="round"/>
<rect x="46.10" y="538.00" width="5.20" height="5.20" fill="#e21616" stroke="none" stroke-width="0" />
<rect x="73.95" y="538.00" width="5.20" height="5.20" fill="#e21616" stroke="none" stroke-width="0" />
<rect x="101.80" y="500.70" width="5.20" height="5.20" fill="#e21616" stroke="none" stroke-width="0" />
<rect x="129.65" y="441.02" width="5.20" height="5.20" fill="#e21616" stroke="none" stroke-width="0" />
<rect x="157.50" y="455.94" width="5.20" height="5.20" fill="#e21616" stroke="none" stroke-width="0" />
<rect x="185.35" y="444.75" width="5.20" height="5.20" fill="#e21616" stroke="none" stroke-width="0" />
<rect x="213.20" y="437.29" width="5.20" height="5.20" fill="#e21616" stroke="none" stroke-width="0" />
<rect x="241.05" y="429.83" width="5.20" height="5.20" fill="#e21616" stroke="none" stroke-width="0" />
<line x1="46.10" y1="541.30" x2="77.55" y2="541.30" stroke="#8c1414" stroke-width="2.4" />
<line x1="159.00" y1="523.40" x2="244.30" y2="523.40" stroke="#000" stroke-width="1.15" stroke-dasharray="4.6 1.7"/>
<path d="M193.00,519.30 L193.00,515.00 M193.00,519.30 L197.09,517.97 M193.00,519.30 L195.53,522.78 M193.00,519.30 L190.47,522.78 M193.00,519.30 L188.91,517.97 " stroke="#36bca8" stroke-width="1.3" stroke-linecap="butt" fill="none"/>
<path d="M207.70,519.50 L207.70,514.50 M207.70,519.50 L212.46,517.95 M207.70,519.50 L210.64,523.55 M207.70,519.50 L204.76,523.55 M207.70,519.50 L202.94,517.95 " stroke="#000" stroke-width="2.1" stroke-linecap="butt" fill="none"/>
<line x1="313.10" y1="142.00" x2="313.10" y2="293.20" stroke="#000" stroke-width="2" />
<line x1="308.30" y1="292.20" x2="313.10" y2="292.20" stroke="#000" stroke-width="1.6" />
<text x="308.70" y="296.50" font-size="10" fill="#000" font-weight="bold" text-anchor="end" >0</text>
<line x1="308.30" y1="254.95" x2="313.10" y2="254.95" stroke="#000" stroke-width="1.6" />
<text x="308.70" y="259.25" font-size="10" fill="#000" font-weight="bold" text-anchor="end" >1</text>
<line x1="308.30" y1="217.70" x2="313.10" y2="217.70" stroke="#000" stroke-width="1.6" />
<text x="308.70" y="222.00" font-size="10" fill="#000" font-weight="bold" text-anchor="end" >2</text>
<line x1="308.30" y1="180.45" x2="313.10" y2="180.45" stroke="#000" stroke-width="1.6" />
<text x="308.70" y="184.75" font-size="10" fill="#000" font-weight="bold" text-anchor="end" >3</text>
<line x1="308.30" y1="143.20" x2="313.10" y2="143.20" stroke="#000" stroke-width="1.6" />
<text x="308.70" y="147.50" font-size="10" fill="#000" font-weight="bold" text-anchor="end" >4</text>
<line x1="373.40" y1="158.10" x2="373.40" y2="173.00" stroke="#000" stroke-width="2" />
<line x1="366.40" y1="158.10" x2="380.40" y2="158.10" stroke="#000" stroke-width="2" />
<rect x="361.30" y="174.00" width="24.20" height="118.20" fill="#f84242" stroke="#000" stroke-width="2" />
<line x1="413.70" y1="192.37" x2="413.70" y2="202.80" stroke="#000" stroke-width="2" />
<line x1="406.70" y1="192.37" x2="420.70" y2="192.37" stroke="#000" stroke-width="2" />
<rect x="401.60" y="203.80" width="24.20" height="88.40" fill="#08ec1e" stroke="#000" stroke-width="2" />
<line x1="454.15" y1="189.50" x2="454.15" y2="202.80" stroke="#000" stroke-width="2" />
<line x1="447.15" y1="189.50" x2="461.15" y2="189.50" stroke="#000" stroke-width="2" />
<rect x="442.10" y="203.80" width="24.10" height="88.40" fill="#fda043" stroke="#000" stroke-width="2" />
<line x1="494.60" y1="226.12" x2="494.60" y2="235.99" stroke="#000" stroke-width="2" />
<line x1="487.60" y1="226.12" x2="501.60" y2="226.12" stroke="#000" stroke-width="2" />
<rect x="482.00" y="236.99" width="25.20" height="55.21" fill="#000" stroke="#000" stroke-width="2" />
<line x1="312.10" y1="292.20" x2="516.00" y2="292.20" stroke="#000" stroke-width="2" />
<text transform="translate(298.40,215.60) rotate(-90)" font-size="11.0" font-weight="bold" text-anchor="middle" fill="#000">Back skin scale score</text>
<text x="409.40" y="158.40" font-size="12" fill="#000" font-weight="normal" text-anchor="start" >Day 7</text>
<text x="330.50" y="306.80" font-size="7.3" fill="#000" font-weight="normal" text-anchor="middle" letter-spacing="0.15">Naiive</text>
<text x="371.20" y="306.80" font-size="7.3" fill="#000" font-weight="normal" text-anchor="middle" letter-spacing="0.15">IMQ</text>
<text x="412.90" y="306.80" font-size="7.3" fill="#000" font-weight="normal" text-anchor="middle" letter-spacing="0.15">LNC 1</text>
<text x="454.00" y="307.80" font-size="7.3" fill="#000" font-weight="normal" text-anchor="middle" letter-spacing="0.15">LNC 2</text>
<text x="494.60" y="307.90" font-size="7.3" fill="#000" font-weight="normal" text-anchor="middle" letter-spacing="0.15">IL-17 Ab</text>
<line x1="309.20" y1="390.00" x2="309.20" y2="542.20" stroke="#000" stroke-width="2" />
<line x1="304.40" y1="541.20" x2="309.20" y2="541.20" stroke="#000" stroke-width="1.6" />
<text x="304.80" y="545.50" font-size="10" fill="#000" font-weight="bold" text-anchor="end" >0</text>
<line x1="304.40" y1="503.60" x2="309.20" y2="503.60" stroke="#000" stroke-width="1.6" />
<text x="304.80" y="507.90" font-size="10" fill="#000" font-weight="bold" text-anchor="end" >1</text>
<line x1="304.40" y1="466.00" x2="309.20" y2="466.00" stroke="#000" stroke-width="1.6" />
<text x="304.80" y="470.30" font-size="10" fill="#000" font-weight="bold" text-anchor="end" >2</text>
<line x1="304.40" y1="428.40" x2="309.20" y2="428.40" stroke="#000" stroke-width="1.6" />
<text x="304.80" y="432.70" font-size="10" fill="#000" font-weight="bold" text-anchor="end" >3</text>
<line x1="304.40" y1="390.80" x2="309.20" y2="390.80" stroke="#000" stroke-width="1.6" />
<text x="304.80" y="395.10" font-size="10" fill="#000" font-weight="bold" text-anchor="end" >4</text>
<line x1="374.05" y1="421.90" x2="374.05" y2="432.80" stroke="#000" stroke-width="2" />
<line x1="367.05" y1="421.90" x2="381.05" y2="421.90" stroke="#000" stroke-width="2" />
<rect x="360.50" y="433.80" width="27.10" height="107.40" fill="#ff0000" stroke="#000" stroke-width="2" />
<line x1="417.60" y1="446.79" x2="417.60" y2="455.89" stroke="#000" stroke-width="2" />
<line x1="410.60" y1="446.79" x2="424.60" y2="446.79" stroke="#000" stroke-width="2" />
<rect x="404.50" y="456.89" width="26.20" height="84.31" fill="#00ff00" stroke="#000" stroke-width="2" />
<line x1="461.15" y1="463.44" x2="461.15" y2="470.59" stroke="#000" stroke-width="2" />
<line x1="454.15" y1="463.44" x2="468.15" y2="463.44" stroke="#000" stroke-width="2" />
<rect x="447.60" y="471.59" width="27.10" height="69.61" fill="#fca044" stroke="#000" stroke-width="2" />
<line x1="504.70" y1="475.25" x2="504.70" y2="482.02" stroke="#000" stroke-width="2" />
<line x1="497.70" y1="475.25" x2="511.70" y2="475.25" stroke="#000" stroke-width="2" />
<rect x="491.40" y="483.02" width="26.60" height="58.18" fill="#000" stroke="#000" stroke-width="2" />
<line x1="308.20" y1="541.20" x2="527.20" y2="541.20" stroke="#000" stroke-width="2" />
<text transform="translate(293.40,465.30) rotate(-90)" font-size="11.3" font-weight="bold" text-anchor="middle" fill="#000">Redness</text>
<text x="410.60" y="412.70" font-size="12" fill="#000" font-weight="normal" text-anchor="start" >Day 7</text>
<text x="334.70" y="556.70" font-size="7.3" fill="#000" font-weight="normal" text-anchor="middle" letter-spacing="0.15">Naiive</text>
<text x="376.10" y="555.90" font-size="7.3" fill="#000" font-weight="normal" text-anchor="middle" letter-spacing="0.15">IMQ</text>
<text x="418.80" y="556.40" font-size="7.3" fill="#000" font-weight="normal" text-anchor="middle" letter-spacing="0.15">LNC 1</text>
<text x="462.70" y="557.90" font-size="7.3" fill="#000" font-weight="normal" text-anchor="middle" letter-spacing="0.15">LNC 2</text>
<text x="504.80" y="557.90" font-size="7.3" fill="#000" font-weight="normal" text-anchor="middle" letter-spacing="0.15">IL-17 Ab</text>
<rect x="373.20" y="139.40" width="1.00" height="1.00" fill="#c0c0c0" stroke="none" stroke-width="0" />
<defs><linearGradient id="mg" x1="0" x2="0" y1="0" y2="1"><stop offset="0" stop-color="#7a7a7a"/><stop offset="1" stop-color="#6a6a6a"/></linearGradient><linearGradient id="tg" x1="0" x2="0" y1="0" y2="1"><stop offset="0" stop-color="#38b6e0"/><stop offset="1" stop-color="#1590c6"/></linearGradient></defs>
<path fill="url(#mg)" d="M605.2,172.5 C608,169 612.5,163.5 616,160.5 L615.2,156 C614.4,151.2 616.4,149.3 618.4,149.4 C620.6,149.6 621.7,151.5 621.6,153.6 C621.3,148.8 623,146.8 625,147 C627.6,147.3 628.9,150 628.6,153.4 C637,149.5 648,146 658,146 C668,146 676,150 680,158 C683,165 682,173 677,180 L676.6,182.3 C676.5,183.6 675.5,184.4 674,184.4 L659.3,184.4 C657.2,184.4 656.8,182.8 658,181.8 L660.3,180.2 C655,179.2 648,179 643.2,180 L642.6,182.5 C642.4,183.8 641.5,184.4 640,184.4 L627.8,184.4 C625.6,184.4 625.2,182.8 626.6,181.8 L631,178.3 C624,177.5 614,176 607,174.6 C605,174.1 604.4,173.3 605.2,172.5 Z"/>
<circle cx="619.1" cy="165.3" r="2.3" fill="#fff"/>
<path d="M657.6,161.3 C654.2,165 654.6,170 658.6,173.8 C661.2,176.3 663.3,178.6 662.8,181.6 C665.6,178.6 665.3,175.8 662.2,172.8 C658.6,169.3 656.6,165.8 657.6,161.3 Z" fill="#fff"/>
<path d="M681,175.5 C681.8,172.2 682.6,170.2 684,168.6 C692,170 698.6,174 697.8,179 C697,184.6 686,188 667.8,188.3 C680,186.6 688.6,184 689.6,180 C690.4,177 686.6,175.4 681,175.5 Z" fill="url(#tg)"/>
<line x1="586.00" y1="192.40" x2="716.00" y2="192.40" stroke="#e4e4e4" stroke-width="1" />
<text x="650.30" y="214.70" font-size="14.6" fill="#1f3d6e" font-weight="normal" text-anchor="middle" >BalbC mice</text>
<text x="652.00" y="232.80" font-size="14.6" fill="#1f3d6e" font-weight="normal" text-anchor="middle" >(n = 50)</text>
<rect x="737.00" y="128.20" width="272.30" height="108.00" fill="#f1f1f1" stroke="#1c2c4c" stroke-width="1.4" />
<rect x="834.80" y="112.00" width="72.00" height="24.70" fill="#fff" stroke="#333" stroke-width="1.2" />
<text x="870.80" y="128.80" font-size="13" fill="#111" font-weight="normal" text-anchor="middle" >5 Groups</text>
<text x="748.60" y="151.80" font-size="14.5" fill="#234677" font-weight="normal" text-anchor="start" >Naïve</text>
<text x="748.60" y="170.60" font-size="14.5" fill="#234677" font-weight="normal" text-anchor="start" >IMQ only</text>
<text x="748.60" y="190.50" font-size="14.5" fill="#234677" font-weight="normal" text-anchor="start" >LNC1</text>
<text x="748.60" y="209.50" font-size="14.5" fill="#234677" font-weight="normal" text-anchor="start" >LNC2</text>
<text x="748.60" y="228.30" font-size="14.5" fill="#234677" font-weight="normal" text-anchor="start" >IL-17A murine Ab</text>
<line x1="795.60" y1="181.50" x2="795.60" y2="212.50" stroke="#000" stroke-width="2" />
<text x="804.70" y="199.80" font-size="13" fill="#111" font-weight="normal" text-anchor="start" >10 µg/mouse daily (oral gavage)</text>
<text x="881.50" y="228.30" font-size="13.2" fill="#111" font-weight="normal" text-anchor="start" >1 mg/kg i.p. qod</text>
<line x1="652.50" y1="269.50" x2="652.50" y2="515.50" stroke="#000" stroke-width="3" />
<line x1="647.00" y1="514.00" x2="652.50" y2="514.00" stroke="#000" stroke-width="2" />
<text x="645.70" y="520.40" font-size="18.2" fill="#000" font-weight="bold" text-anchor="end" >0.0</text>
<line x1="647.00" y1="453.20" x2="652.50" y2="453.20" stroke="#000" stroke-width="2" />
<text x="645.70" y="459.60" font-size="18.2" fill="#000" font-weight="bold" text-anchor="end" >0.5</text>
<line x1="647.00" y1="392.40" x2="652.50" y2="392.40" stroke="#000" stroke-width="2" />
<text x="645.70" y="398.80" font-size="18.2" fill="#000" font-weight="bold" text-anchor="end" >1.0</text>
<line x1="647.00" y1="331.60" x2="652.50" y2="331.60" stroke="#000" stroke-width="2" />
<text x="645.70" y="338.00" font-size="18.2" fill="#000" font-weight="bold" text-anchor="end" >1.5</text>
<line x1="647.00" y1="270.80" x2="652.50" y2="270.80" stroke="#000" stroke-width="2" />
<text x="645.70" y="277.20" font-size="18.2" fill="#000" font-weight="bold" text-anchor="end" >2.0</text>
<text transform="translate(612.6,389.5) rotate(-90)" font-size="19.2" font-weight="bold" text-anchor="middle" fill="#111">Fold change</text>
<rect x="665.50" y="511.04" width="48.00" height="3.00" fill="#000" stroke="none" stroke-width="0" />
<line x1="763.20" y1="336.46" x2="763.20" y2="392.40" stroke="#000" stroke-width="3" />
<line x1="751.20" y1="336.46" x2="775.20" y2="336.46" stroke="#000" stroke-width="3" />
<rect x="740.90" y="393.90" width="44.60" height="120.10" fill="#f84444" stroke="#000" stroke-width="3" />
<line x1="835.65" y1="366.86" x2="835.65" y2="406.99" stroke="#000" stroke-width="3" />
<line x1="823.65" y1="366.86" x2="847.65" y2="366.86" stroke="#000" stroke-width="3" />
<rect x="813.00" y="408.49" width="45.30" height="105.51" fill="#08f808" stroke="#000" stroke-width="3" />
<line x1="908.45" y1="415.50" x2="908.45" y2="437.39" stroke="#000" stroke-width="3" />
<line x1="896.45" y1="415.50" x2="920.45" y2="415.50" stroke="#000" stroke-width="3" />
<rect x="885.70" y="438.89" width="45.50" height="75.11" fill="#fda244" stroke="#000" stroke-width="3" />
<line x1="982.65" y1="325.52" x2="982.65" y2="353.49" stroke="#000" stroke-width="3" />
<line x1="970.65" y1="325.52" x2="994.65" y2="325.52" stroke="#000" stroke-width="3" />
<rect x="959.80" y="354.99" width="45.70" height="159.01" fill="#000" stroke="#000" stroke-width="3" />
<line x1="651.00" y1="514.00" x2="1020.00" y2="514.00" stroke="#000" stroke-width="3" />
<line x1="654.00" y1="392.70" x2="960.00" y2="392.70" stroke="#e04848" stroke-width="1.5" stroke-dasharray="6 3.4"/>
<rect x="880.80" y="366.90" width="41.80" height="19.40" fill="#fcebd5" stroke="#cc3a3a" stroke-width="1.4" />
<text x="889.00" y="380.20" font-size="8.6" fill="#000" font-weight="bold" text-anchor="start" letter-spacing="0.3">47%</text>
<path d="M911.6,371.8 L911.6,379.6 M909.1,377 L911.6,379.9 L914.1,377" stroke="#000" stroke-width="1.1" fill="none"/>
<rect x="689.50" y="265.50" width="303.60" height="46.30" fill="#eff0f2" stroke="#1c2c4c" stroke-width="1.4" />
<text x="705.39" y="286.3" font-size="16" font-weight="normal" fill="#13306a" textLength="51.73" lengthAdjust="spacingAndGlyphs" stroke="#13306a" stroke-width="0.45" stroke-linejoin="round">Change</text>
<text x="761.90" y="286.3" font-size="16" font-weight="normal" fill="#13306a" textLength="11.01" lengthAdjust="spacingAndGlyphs" stroke="#13306a" stroke-width="0.45" stroke-linejoin="round">in</text>
<text x="781.96" y="286.3" font-size="16" font-weight="normal" fill="#13306a" textLength="39.75" lengthAdjust="spacingAndGlyphs" stroke="#13306a" stroke-width="0.45" stroke-linejoin="round">IL-17A</text>
<text x="825.69" y="286.3" font-size="16" font-weight="normal" fill="#13306a" textLength="44.95" lengthAdjust="spacingAndGlyphs" stroke="#13306a" stroke-width="0.45" stroke-linejoin="round">Tissue</text>
<text x="874.59" y="286.3" font-size="16" font-weight="normal" fill="#13306a" textLength="41.89" lengthAdjust="spacingAndGlyphs" stroke="#13306a" stroke-width="0.45" stroke-linejoin="round">mRNA</text>
<text x="919.92" y="286.3" font-size="16" font-weight="normal" fill="#13306a" textLength="13.45" lengthAdjust="spacingAndGlyphs" stroke="#13306a" stroke-width="0.45" stroke-linejoin="round">at</text>
<text x="937.63" y="286.3" font-size="16" font-weight="normal" fill="#13306a" textLength="23.99" lengthAdjust="spacingAndGlyphs" stroke="#13306a" stroke-width="0.45" stroke-linejoin="round">Day</text>
<text x="966.30" y="286.3" font-size="16" font-weight="normal" fill="#13306a" textLength="9.20" lengthAdjust="spacingAndGlyphs" stroke="#13306a" stroke-width="0.45" stroke-linejoin="round">7</text>
<text x="841.00" y="303.00" font-size="13" fill="#13306a" font-weight="normal" text-anchor="middle" stroke="#13306a" stroke-width="0.25">(5 per group)</text>
<text x="685.70" y="529.50" font-size="9" fill="#000" font-weight="normal" text-anchor="middle" >Naive</text>
<text x="763.30" y="529.50" font-size="9" fill="#000" font-weight="normal" text-anchor="middle" >IMQ</text>
<text x="833.40" y="532.90" font-size="9" fill="#000" font-weight="normal" text-anchor="middle" >LNC 1</text>
<text x="909.20" y="531.80" font-size="9" fill="#000" font-weight="normal" text-anchor="middle" >LNC 2</text>
<text x="982.70" y="533.00" font-size="9" fill="#000" font-weight="normal" text-anchor="middle" >IL-17A Ab</text>
<text x="667.60" y="561.10" font-size="13" fill="#1d3f7c" font-weight="normal" text-anchor="start" >Changes in serum cytokine levels not expected in this model</text>
<line x1="0.00" y1="576.50" x2="1100.00" y2="576.50" stroke="#f9d68c" stroke-width="1" />
<line x1="0.00" y1="577.50" x2="1100.00" y2="577.50" stroke="#ddb872" stroke-width="1" />
<text x="15.90" y="597.50" font-size="8.8" fill="#2a4a80" font-weight="normal" text-anchor="start" >21</text>
<text x="409.50" y="601.40" font-size="8.6" fill="#8a8a8a" font-weight="normal" text-anchor="start" textLength="279" lengthAdjust="spacingAndGlyphs" letter-spacing="3.2" word-spacing="1">COPYRIGHT MATINAS BIOPHARMA – 2024</text>
<text x="983.40" y="598.30" font-size="12.6" fill="#1c2a4a" font-weight="normal" text-anchor="start" textLength="88.2" lengthAdjust="spacingAndGlyphs" stroke="#1c2a4a" stroke-width="0.3">MATINAS</text>
<path d="M983.5,605.3 Q1027.5,598.5 1072,605.3" fill="none" stroke="#ecd08e" stroke-width="0.9"/>
<text x="1002.00" y="612.90" font-size="7" fill="#4a5570" font-weight="normal" text-anchor="start" textLength="50.3" lengthAdjust="spacing">BIOPHARMA</text>
</svg>
</body></html>
